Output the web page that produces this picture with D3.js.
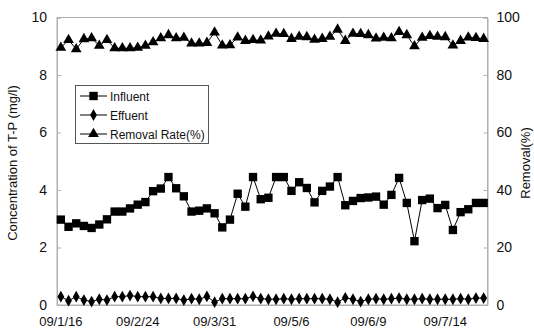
<!DOCTYPE html>
<html><head><meta charset="utf-8">
<script src="https://cdn.jsdelivr.net/npm/d3@7"></script>
<style>
html,body{margin:0;padding:0;background:#fff;}
svg{display:block;font-family:"Liberation Sans",Arial,sans-serif;}
</style></head>
<body><svg id="c" width="534" height="331"></svg>
<script>
const tickLabels = ["09/1/16","09/2/24","09/3/31","09/5/6","09/6/9","09/7/14"];
const tickIndex = [0,10,20,30,40,50];
const influent = [2.97,2.72,2.84,2.75,2.68,2.8,2.98,3.25,3.25,3.36,3.49,3.58,3.96,4.05,4.45,4.06,3.78,3.25,3.28,3.36,3.19,2.7,2.97,3.87,3.42,4.45,3.68,3.73,4.45,4.45,3.97,4.27,4.07,3.57,3.97,4.12,4.45,3.47,3.62,3.72,3.74,3.77,3.49,3.83,4.42,3.55,2.22,3.65,3.7,3.37,3.48,2.61,3.23,3.33,3.55,3.55];
const effluent = [0.29,0.15,0.29,0.17,0.12,0.2,0.17,0.29,0.29,0.33,0.29,0.29,0.29,0.23,0.23,0.23,0.17,0.22,0.2,0.3,0.1,0.22,0.22,0.22,0.22,0.3,0.22,0.2,0.2,0.22,0.2,0.22,0.22,0.22,0.22,0.2,0.1,0.25,0.2,0.12,0.2,0.22,0.2,0.22,0.24,0.2,0.2,0.22,0.2,0.2,0.2,0.2,0.22,0.2,0.24,0.24];
const removal = [89.5,92.2,89.0,92.5,92.8,90.2,92.2,89.3,89.3,89.3,89.5,90.2,91.4,92.8,93.9,92.8,93.0,91.0,91.0,91.2,94.8,90.3,90.4,93.1,91.9,92.2,92.0,93.4,94.4,94.3,92.6,93.3,93.2,92.3,92.6,93.3,95.8,91.9,94.4,94.3,93.9,92.7,93.0,92.8,95.0,93.9,90.0,93.0,93.6,93.3,93.2,90.3,91.9,93.1,92.9,92.6];
const leftTicks = [0,2,4,6,8,10];
const rightTicks = [0,20,40,60,80,100];
const seriesNames = ["Influent","Effuent","Removal Rate(%)"];

const svg = d3.select("#c");
const L = 57, R = 487.5, T = 17.5, B = 305;
const idx = d3.range(influent.length);
const x = d3.scaleBand().domain(idx).range([L, R]).padding(0);
const cx = i => x(i) + x.bandwidth()/2;
const yL = d3.scaleLinear().domain([0,10]).range([B, T]);
const yR = d3.scaleLinear().domain([0,100]).range([B, T]);

// frame
svg.append("rect").attr("x",L).attr("y",T).attr("width",R-L).attr("height",B-T)
  .attr("fill","none").attr("stroke","#b0b0b0").attr("stroke-width",1);

// left axis
const ga = svg.append("g").attr("transform",`translate(${L},0)`)
  .call(d3.axisLeft(yL).tickValues(leftTicks).tickSize(-4).tickPadding(10).tickFormat(d3.format("d")));
ga.select(".domain").attr("stroke","#b0b0b0");
ga.selectAll(".tick line").attr("stroke","#b0b0b0");
ga.selectAll("text").attr("font-size",14).attr("fill","#111").attr("font-family","Liberation Sans, Arial, sans-serif");

// right axis
const gr = svg.append("g").attr("transform",`translate(${R},0)`)
  .call(d3.axisRight(yR).tickValues(rightTicks).tickSize(-4).tickPadding(9).tickFormat(d3.format("d")));
gr.select(".domain").attr("stroke","#b0b0b0");
gr.selectAll(".tick line").attr("stroke","#b0b0b0");
gr.selectAll("text").attr("font-size",14).attr("fill","#111").attr("font-family","Liberation Sans, Arial, sans-serif");

// bottom axis
const gb = svg.append("g").attr("transform",`translate(0,${B})`)
  .call(d3.axisBottom(x).tickValues(tickIndex).tickSize(0).tickPadding(12)
    .tickFormat((d,i)=>tickLabels[i]));
gb.select(".domain").attr("stroke","#b0b0b0");
gb.selectAll("text").attr("font-size",13).attr("fill","#111").attr("font-family","Liberation Sans, Arial, sans-serif");

// axis titles
svg.append("text").attr("transform",`translate(17,163) rotate(-90)`)
  .attr("text-anchor","middle").attr("font-size",13).attr("fill","#111")
  .text("Concentration of T-P (mg/l)");
svg.append("text").attr("transform",`translate(530,163) rotate(-90)`)
  .attr("text-anchor","middle").attr("font-size",13).attr("fill","#111")
  .text("Removal(%)");

const sym = {
  sq: d3.symbol().type(d3.symbolSquare).size(70),
  di: d3.symbol().type(d3.symbolDiamond).size(40),
  tr: d3.symbol().type(d3.symbolTriangle).size(50)
};

function series(data, y, s){
  const line = d3.line().x((d,i)=>cx(i)).y(d=>y(d));
  svg.append("path").datum(data).attr("d",line).attr("fill","none")
    .attr("stroke","#000").attr("stroke-width",1);
  svg.append("g").selectAll("path").data(data).join("path")
    .attr("transform",(d,i)=>`translate(${cx(i)},${y(d)})`)
    .attr("d",s).attr("fill","#000");
}
series(influent, yL, sym.sq);
series(effluent, yL, sym.di);
series(removal, yR, sym.tr);

// legend
const lg = svg.append("g");
lg.append("rect").attr("x",75.5).attr("y",85.5).attr("width",133).attr("height",58)
  .attr("fill","#fff").attr("stroke","#555").attr("stroke-width",1);
const syms = [sym.sq, sym.di, sym.tr];
seriesNames.forEach((n,k)=>{
  const yy = 96 + k*19;
  lg.append("line").attr("x1",80).attr("x2",107).attr("y1",yy).attr("y2",yy).attr("stroke","#000");
  lg.append("path").attr("transform",`translate(93.5,${yy})`).attr("d",syms[k]).attr("fill","#000");
  lg.append("text").attr("x",110).attr("y",yy+4.5).attr("font-size",12).attr("fill","#111").text(n);
});
</script></body></html>
